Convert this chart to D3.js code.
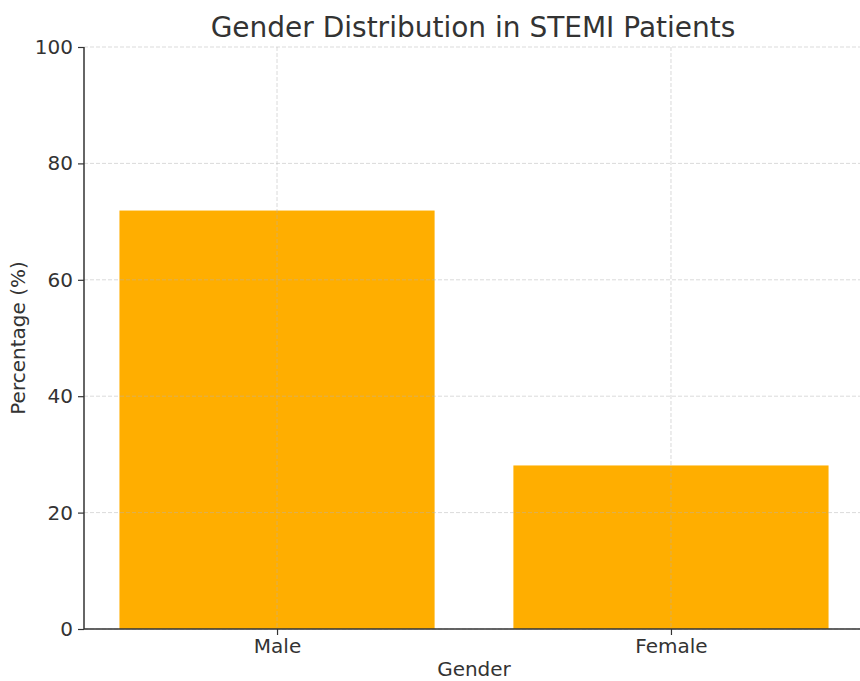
<!DOCTYPE html>
<html>
<head>
<meta charset="utf-8">
<title>Gender Distribution in STEMI Patients</title>
<script src="https://d3js.org/d3.v7.min.js"></script>
<style>
  body { margin: 0; background: #fff; }
  svg text { font-family: "DejaVu Sans", sans-serif; }
</style>
</head>
<body>
<div id="chart"></div>
<script>
var categories = ["Male", "Female"];
var percentages = [71.9, 28.1];
var yTicks = [0, 20, 40, 60, 80, 100];

var W = 860, H = 681;
var margin = {top: 47, right: -4, bottom: 52, left: 84};
var width = W - margin.left - margin.right,
    height = H - margin.top - margin.bottom;

var svg = d3.select("#chart").append("svg")
    .attr("width", W)
    .attr("height", H);

var g = svg.append("g")
    .attr("transform", "translate(" + margin.left + "," + margin.top + ")");

// x positions like matplotlib: index 0..n-1, bar width 0.8
var x = d3.scaleLinear()
    .domain([-0.49, categories.length - 1 + 0.49])
    .range([0, width]);

var y = d3.scaleLinear()
    .domain([0, 100])
    .range([height, 0]);

var textColor = "#333";

// bars
g.selectAll("rect.bar")
    .data(percentages)
  .enter().append("rect")
    .attr("class", "bar")
    .attr("x", function(d, i) { return x(i - 0.4); })
    .attr("width", function(d, i) { return x(i + 0.4) - x(i - 0.4); })
    .attr("y", function(d) { return y(d); })
    .attr("height", function(d) { return y(0) - y(d); })
    .attr("fill", "#ffae00");

// grid lines (over bars, faint)
g.selectAll("line.hgrid")
    .data(yTicks)
  .enter().append("line")
    .attr("x1", 0).attr("x2", width)
    .attr("y1", function(d) { return y(d); })
    .attr("y2", function(d) { return y(d); })
    .attr("stroke", "#b0b0b0")
    .attr("stroke-opacity", 0.6)
    .attr("stroke-dasharray", "4,2")
    .attr("stroke-width", 0.8);

g.selectAll("line.vgrid")
    .data(categories)
  .enter().append("line")
    .attr("x1", function(d, i) { return x(i); })
    .attr("x2", function(d, i) { return x(i); })
    .attr("y1", 0).attr("y2", height)
    .attr("stroke", "#b0b0b0")
    .attr("stroke-opacity", 0.6)
    .attr("stroke-dasharray", "4,2")
    .attr("stroke-width", 0.8);

// axes
var yAxis = g.append("g")
    .call(d3.axisLeft(y).tickValues(yTicks).tickSize(6).tickPadding(5).tickFormat(d3.format("d")));

var xAxis = g.append("g")
    .attr("transform", "translate(0," + height + ")")
    .call(d3.axisBottom(x).tickValues(d3.range(categories.length))
        .tickSize(6).tickPadding(4)
        .tickFormat(function(i) { return categories[i]; }));

[xAxis, yAxis].forEach(function(a) {
    a.attr("font-family", null).attr("font-size", null);
    a.select(".domain").attr("stroke", textColor).attr("stroke-width", 1.5)
        .attr("d", a === yAxis ? "M0," + height + "V0" : "M0,0H" + width);
    a.selectAll(".tick line").attr("stroke", textColor).attr("stroke-width", 1.2);
    a.selectAll(".tick text").attr("fill", textColor).style("font-size", "20px");
});

// title and labels
svg.append("text")
    .attr("x", 473).attr("y", 37)
    .attr("text-anchor", "middle")
    .attr("fill", textColor)
    .style("font-size", "28px")
    .text("Gender Distribution in STEMI Patients");

svg.append("text")
    .attr("x", 474).attr("y", 676)
    .attr("text-anchor", "middle")
    .attr("fill", textColor)
    .style("font-size", "20px")
    .text("Gender");

svg.append("text")
    .attr("transform", "translate(25," + (margin.top + height / 2) + ") rotate(-90)")
    .attr("text-anchor", "middle")
    .attr("fill", textColor)
    .style("font-size", "20px")
    .text("Percentage (%)");
</script>
</body>
</html>
